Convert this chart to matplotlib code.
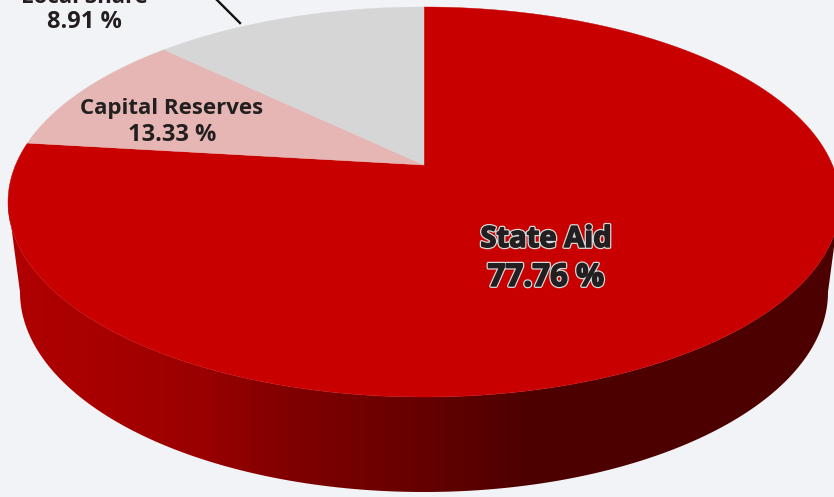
import numpy as np
import matplotlib
matplotlib.use("Agg")
import matplotlib.pyplot as plt
import matplotlib.patheffects as pe
from matplotlib.patches import Polygon
from matplotlib.colors import to_rgb

# slices in drawing order, clockwise from 12 o'clock
# sweeps are read off the slice edges in the picture; the printed labels don't
# line up with them (the grey slice is the wider one), so labels stay separate
slice_names = ["Red", "Pink", "Grey"]
slice_shares = [76.9, 10.3, 12.8]
slice_colors = ["#c80000", "#e5b6b3", "#d6d6d6"]

label_names = ["State Aid", "Capital Reserves", "Local Share"]
label_values = ["77.76 %", "13.33 %", "8.91 %"]

BG = "#f1f3f6"
INK = "#231f20"

# where the disc sits on the canvas, in pixels
CX, CY, A, B = 424, 202, 416, 195
LOW_CY, LOW_A, LOW_B = 292, 404, 200
TILT = 37 / 195  # apex sits above the ellipse centre


def project(theta, r=1.0):
    # clockwise angle from the top of the disc -> canvas position
    x = r * np.sin(theta)
    y = r * np.cos(theta)
    den = 1 + TILT * y
    return CX + A * x * np.sqrt(1 - TILT ** 2) / den, CY - B * (y + TILT) / den


fig = plt.figure(figsize=(8.34, 4.97), dpi=100, facecolor=BG)
ax = fig.add_axes([0, 0, 1, 1])

# side wall: one gradient image clipped to the wall outline
stop_x = [8, 100, 200, 290, 400, 530, 840]
stop_c = ["#b00000", "#a80000", "#9a0000", "#800000", "#6a0000", "#4d0000", "#4d0000"]
stop_rgb = np.array([to_rgb(c) for c in stop_c])

grad_x = np.arange(0, 841)
grad = np.stack([np.interp(grad_x, stop_x, stop_rgb[:, k]) for k in range(3)], axis=-1)[None, :, :]
im = ax.imshow(grad, extent=[0, 840, 497, 0], aspect="auto", interpolation="bilinear", zorder=1)

t = np.linspace(np.pi, 2 * np.pi, 361)
top_x = CX + A * np.cos(t)
top_y = CY - B * np.sin(t)
low_x = CX + LOW_A * np.cos(t)
low_y = LOW_CY - LOW_B * np.sin(t)
wall = Polygon(np.c_[np.r_[top_x, low_x[::-1]], np.r_[top_y, low_y[::-1]]], transform=ax.transData,
               fc="none", ec="none")
ax.add_patch(wall)
im.set_clip_path(wall)

ax.set_xlim(0, 834)
ax.set_ylim(497, 0)
ax.axis("off")

# top face
edges = np.cumsum([0] + slice_shares) / np.sum(slice_shares) * 2 * np.pi
apex_x, apex_y = project(np.array([0.0]), 0.0)
for i, col in enumerate(slice_colors):
    th = np.linspace(edges[i], edges[i + 1], 300)
    ex, ey = project(th)
    ax.fill(np.r_[apex_x, ex], np.r_[apex_y, ey], color=col, lw=0.3, zorder=3)

# leader line for the label that sits outside
ax.plot([214, 240], [-3, 23], color="#111111", lw=1.7, zorder=4)

font = ["Open Sans", "DejaVu Sans"]
small = dict(ha="center", va="baseline", fontweight="bold", family=font, color=INK, zorder=5)
ax.text(172, 114, label_names[1], fontsize=16, **small)
ax.text(172, 141, label_values[1], fontsize=17, **small)
ax.text(84, 3, label_names[2], fontsize=16, **small, clip_on=False)
ax.text(84, 28, label_values[2], fontsize=17, **small)

halo = [pe.withStroke(linewidth=2.8, foreground="#d9d9d9"), pe.withStroke(linewidth=1.0, foreground=INK)]
ax.text(546, 247, label_names[0], ha="center", va="baseline", fontsize=21, fontweight="bold",
        family=font, color=INK, path_effects=halo, zorder=5)
ax.text(546, 286, label_values[0], ha="center", va="baseline", fontsize=22.5, fontweight="bold",
        family=font, color=INK, path_effects=halo, zorder=5)

fig.savefig("out.png", dpi=100, facecolor=BG)
